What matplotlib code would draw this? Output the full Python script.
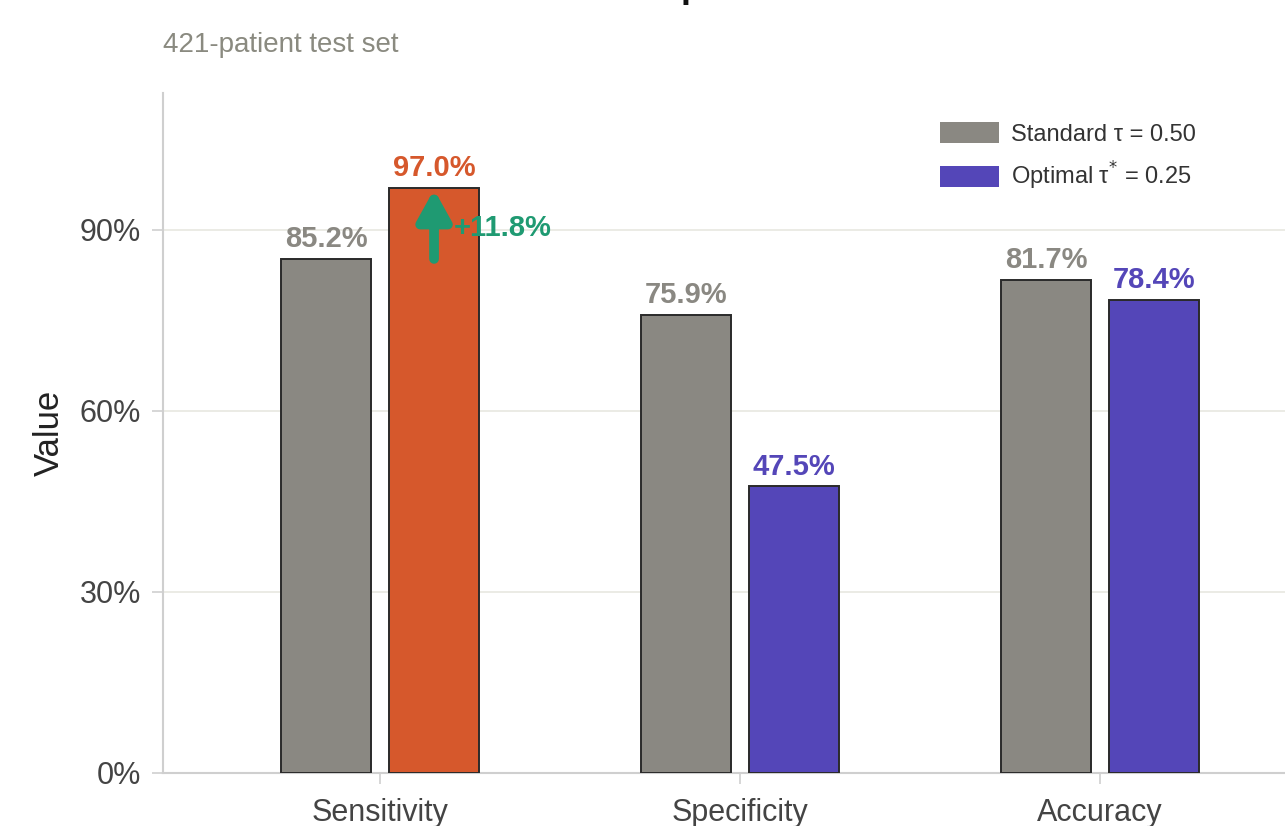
import numpy as np
import matplotlib.pyplot as plt
from matplotlib.patches import Patch
from matplotlib.ticker import FuncFormatter

plt.rcParams['font.family'] = ['Liberation Sans', 'DejaVu Sans']

# Data
metrics = ['Sensitivity', 'Specificity', 'Accuracy']
standard = [85.2, 75.9, 81.7]
optimal = [97.0, 47.5, 78.4]
gain_label = '+11.8%'

title = 'Performance at Standard vs Optimal Threshold'
subtitle = '421-patient test set'

# Colours
gray = '#8a8882'
orange = '#d6582c'
blue = '#5446b8'
green = '#1f9a72'
opt_colors = [orange, blue, blue]

fig = plt.figure(figsize=(12.85, 8.26), dpi=100)
ax = fig.add_axes([163 / 1285, 1 - 773 / 826, 1 - 163 / 1285, (773 - 93) / 826])

x = np.arange(len(metrics))
w = 0.25
off = 0.15
ax.bar(x - off, standard, w, color=gray, edgecolor='#2a2a2a', linewidth=1.4, zorder=3)
ax.bar(x + off, optimal, w, color=opt_colors, edgecolor='#2a2a2a', linewidth=1.4, zorder=3)

for i in range(len(metrics)):
    ax.annotate(f'{standard[i]:.1f}%', (x[i] - off, standard[i]), xytext=(0, 4),
                textcoords='offset points', ha='center', va='bottom',
                fontsize=21, fontweight='bold', color=gray)
    ax.annotate(f'{optimal[i]:.1f}%', (x[i] + off, optimal[i]), xytext=(0, 4),
                textcoords='offset points', ha='center', va='bottom',
                fontsize=21, fontweight='bold', color=opt_colors[i])

# improvement arrow on sensitivity
ax.annotate('', xy=(x[0] + off, optimal[0] - 0.3), xytext=(x[0] + off, standard[0]),
            arrowprops=dict(arrowstyle='-|>,head_width=0.25,head_length=0.45',
                            lw=7, color=green, mutation_scale=40, shrinkA=0, shrinkB=0),
            zorder=5)
ax.text(x[0] + off + 0.055, 90.3, gain_label, ha='left', va='center',
        fontsize=21, fontweight='bold', color=green, zorder=6)

ax.set_xlim(-0.603, 2.514)
ax.set_ylim(0, 112.7)
ax.set_xticks(x)
ax.set_xticklabels(metrics)
ax.set_yticks([0, 30, 60, 90])
ax.yaxis.set_major_formatter(FuncFormatter(lambda v, p: f'{v:.0f}%'))
ax.tick_params(axis='both', colors='#cfcfcf', length=8, width=1.2, labelsize=22,
               labelcolor='#444444')
ax.tick_params(axis='y', pad=8)
ax.tick_params(axis='x', pad=10)
ax.set_ylabel('Value', fontsize=25, color='#222222', labelpad=10)

for s in ['top', 'right']:
    ax.spines[s].set_visible(False)
for s in ['left', 'bottom']:
    ax.spines[s].set_color('#cfcfcf')
    ax.spines[s].set_linewidth(1.5)
ax.grid(axis='y', color='#e8e8e0', linewidth=1.2, zorder=0)
ax.set_axisbelow(True)

handles = [Patch(facecolor=gray, edgecolor='none'), Patch(facecolor=blue, edgecolor='none')]
ax.legend(handles, ['Standard τ = 0.50', r'Optimal τ$^{*}$ = 0.25'], loc='upper left',
          bbox_to_anchor=(940 / 1285, 1 - 122 / 826), bbox_transform=fig.transFigure,
          frameon=False, fontsize=17, handlelength=2.5, handleheight=1.0,
          handletextpad=0.5, labelspacing=0.6, borderpad=0, borderaxespad=0,
          labelcolor='#333333')

fig.text(163 / 1285, 1 + 3 / 826, title, ha='left', va='baseline',
         fontsize=26, fontweight='bold', color='#111111')
fig.text(163 / 1285, 1 - 45 / 826, subtitle, ha='left', va='center',
         fontsize=20, color='#8a8a80')

fig.savefig('out.png', dpi=100)
